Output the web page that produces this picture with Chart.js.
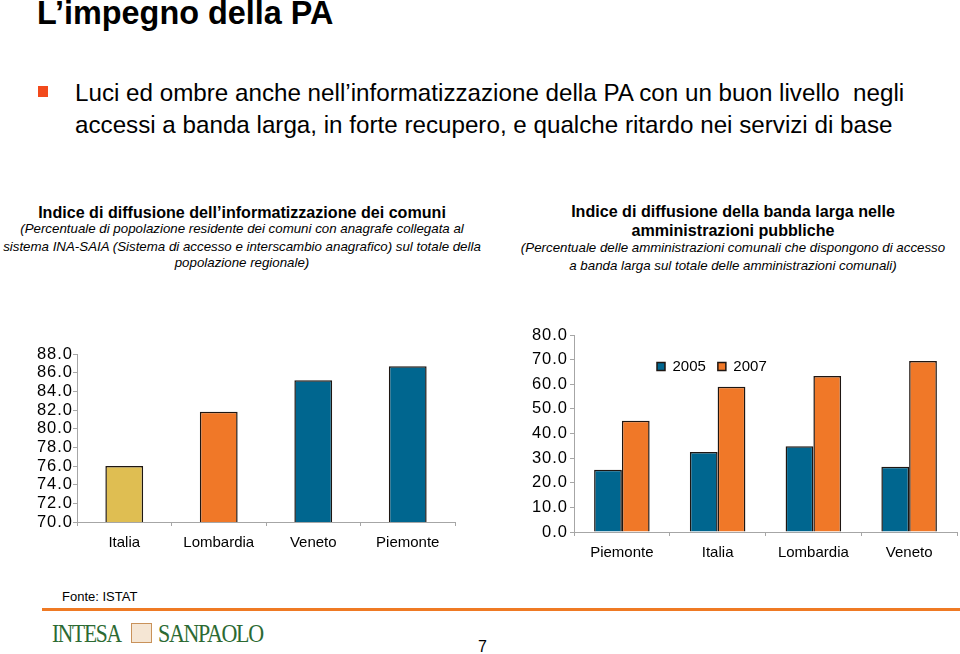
<!DOCTYPE html>
<html>
<head>
<meta charset="utf-8">
<script src="https://cdn.jsdelivr.net/npm/chart.js@4.4.0/dist/chart.umd.min.js"></script>
<style>
  html, body { margin:0; padding:0; background:#fff; }
  body { width:960px; height:654px; position:relative; overflow:hidden; font-family:"Liberation Sans",Arial,sans-serif; color:#000; }
  .abs { position:absolute; white-space:nowrap; }
  #title { left:37px; top:-5px; font-size:32.4px; font-weight:bold; }
  #bullet { left:38px; top:86px; width:10px; height:11px; background:#f24a1c; }
  .lead { left:75px; font-size:24.2px; }
  .hdr { font-weight:bold; font-size:16.1px; text-align:center; }
  .sub { font-style:italic; font-size:13.3px; text-align:center; }
  #c1wrap { left:0; top:330px; width:470px; height:232px; }
  #c2wrap { left:480px; top:320px; width:480px; height:250px; }
  #fonte { left:62px; top:589px; font-size:13px; }
  #rule { left:42px; top:608px; width:918px; height:3px; background:#ef7a24; }
  .logo { top:620px; font-family:"Liberation Serif","DejaVu Serif",serif; font-size:25px; color:#2c6a33; letter-spacing:-1.5px; transform-origin:left; }
  #pg { left:478px; top:638px; font-size:16px; }
</style>
</head>
<body>
<div id="title" class="abs">L’impegno della PA</div>
<div id="bullet" class="abs"></div>
<div class="abs lead" style="top:79px">Luci ed ombre anche nell’informatizzazione della PA con un buon livello&nbsp; negli</div>
<div class="abs lead" style="top:111px">accessi a banda larga, in forte recupero, e qualche ritardo nei servizi di base</div>

<div class="abs hdr" style="left:0;width:484px;top:203px">Indice di diffusione dell’informatizzazione dei comuni</div>
<div class="abs sub" style="left:0;width:484px;top:221px">(Percentuale di popolazione residente dei comuni con anagrafe collegata al</div>
<div class="abs sub" style="left:0;width:484px;top:239px">sistema INA-SAIA (Sistema di accesso e interscambio anagrafico) sul totale della</div>
<div class="abs sub" style="left:0;width:484px;top:255px">popolazione regionale)</div>

<div class="abs hdr" style="left:500px;width:466px;top:202px">Indice di diffusione della banda larga nelle</div>
<div class="abs hdr" style="left:500px;width:466px;top:221px">amministrazioni pubbliche</div>
<div class="abs sub" style="left:500px;width:466px;top:240px">(Percentuale delle amministrazioni comunali che dispongono di accesso</div>
<div class="abs sub" style="left:500px;width:466px;top:258px">a banda larga sul totale delle amministrazioni comunali)</div>

<div id="c1wrap" class="abs"><canvas id="c1" width="470" height="232"></canvas></div>
<div id="c2wrap" class="abs"><canvas id="c2" width="480" height="250"></canvas></div>

<div id="fonte" class="abs">Fonte: ISTAT</div>
<div id="rule" class="abs"></div>
<div class="abs logo" style="left:52px;transform:scaleX(0.86)">INTESA</div>
<div class="abs" style="left:131px;top:623px;width:19px;height:18px;border:1px solid #c9925a;background:#f5e6d4;"></div>
<div class="abs logo" style="left:158px;transform:scaleX(0.88)">SANPAOLO</div>
<div id="pg" class="abs">7</div>

<script>
// ---- data ----
const regions1 = ["Italia", "Lombardia", "Veneto", "Piemonte"];
const informatizzazione = [76.0, 81.8, 85.2, 86.7];
const yTicks1 = [70, 72, 74, 76, 78, 80, 82, 84, 86, 88];

const regions2 = ["Piemonte", "Italia", "Lombardia", "Veneto"];
const seriesNames = ["2005", "2007"];
const bandaLarga2005 = [25.3, 32.5, 34.8, 26.5];
const bandaLarga2007 = [45.2, 59.0, 63.4, 69.4];
const yTicks2 = [0, 10, 20, 30, 40, 50, 60, 70, 80];

// ---- styles ----
const BLUE = '#00668f', ORANGE = '#f07828', YELLOW = '#dfbe52', EDGE = '#1e1612', AXIS = '#a6a6a6';
const tickFont = { family: "'Liberation Sans', Arial, sans-serif", size: 15 };
const yTickFont = { family: "'Liberation Sans', Arial, sans-serif", size: 16.5 };
const Y_SPACING = '1px';

Chart.defaults.animation = false;
Chart.defaults.color = '#000';

function spacedLabels(s) {
  if (s._spaced) return;
  const orig = s.drawLabels.bind(s);
  s.drawLabels = (area) => {
    const ctx = s.ctx;
    const prev = ctx.letterSpacing;
    ctx.letterSpacing = Y_SPACING;
    orig(area);
    ctx.letterSpacing = prev || '0px';
  };
  s._spaced = true;
}

function yAxis(ticks, width, pad) {
  return {
    min: ticks[0], max: ticks[ticks.length - 1],
    afterBuildTicks: s => { s.ticks = ticks.map(v => ({ value: v })); },
    afterFit: s => { s.width = width; spacedLabels(s); },
    ticks: { font: yTickFont, padding: pad, autoSkip: false, callback: v => Number(v).toFixed(1) },
    grid: { drawOnChartArea: false, drawTicks: true, tickLength: 4, color: AXIS },
    border: { display: true, color: AXIS, width: 1 }
  };
}
function xAxis(height) {
  return {
    afterFit: s => { s.height = height; },
    ticks: { font: tickFont, padding: 8, maxRotation: 0, autoSkip: false },
    grid: { drawOnChartArea: false, drawTicks: true, tickLength: 4, color: AXIS, offset: true },
    border: { display: true, color: AXIS, width: 1 }
  };
}

new Chart(document.getElementById('c1'), {
  type: 'bar',
  data: {
    labels: regions1,
    datasets: [{
      data: informatizzazione,
      backgroundColor: [YELLOW, ORANGE, BLUE, BLUE],
      borderColor: EDGE, borderWidth: 1.5,
      barPercentage: 0.4, categoryPercentage: 1.0
    }]
  },
  options: {
    responsive: false,
    layout: { padding: { left: 0, top: 24, right: 15, bottom: 0 } },
    plugins: { legend: { display: false }, tooltip: { enabled: false } },
    scales: { x: xAxis(40), y: yAxis(yTicks1, 77, 0) }
  }
});

// legend drawn by Chart.js, moved inside the plot area
const LEG_X = 177, LEG_TOP = 27, LEG_PAD = 12;
const legendPlace = {
  id: 'legendPlace',
  afterLayout(chart) {
    const lg = chart.legend;
    const w = lg.width, h = lg.height;
    lg.left = LEG_X - LEG_PAD; lg.right = lg.left + w;
    lg.top = LEG_TOP; lg.bottom = LEG_TOP + h;
  }
};

const c2 = new Chart(document.getElementById('c2'), {
  type: 'bar',
  data: {
    labels: regions2,
    datasets: [
      { label: seriesNames[0], data: bandaLarga2005, backgroundColor: BLUE, borderColor: EDGE, borderWidth: 1.5,
        barPercentage: 1.0, categoryPercentage: 0.58 },
      { label: seriesNames[1], data: bandaLarga2007, backgroundColor: ORANGE, borderColor: EDGE, borderWidth: 1.5,
        barPercentage: 1.0, categoryPercentage: 0.58 }
    ]
  },
  options: {
    responsive: false,
    layout: { padding: { left: 0, top: 15, right: 3, bottom: 0 } },
    plugins: {
      tooltip: { enabled: false },
      legend: {
        position: 'top', align: 'start',
        labels: { font: tickFont, boxWidth: 8, boxHeight: 8, padding: LEG_PAD, color: '#000' }
      }
    },
    scales: { x: xAxis(38), y: yAxis(yTicks2, 94, 2) }
  },
  plugins: [legendPlace]
});
// let the plot area start where it would if the legend took no room
const areaTop = c2.chartArea.top;
c2.options.layout.padding.top = 15 - (areaTop - 15);
c2.update();
</script>
</body>
</html>
